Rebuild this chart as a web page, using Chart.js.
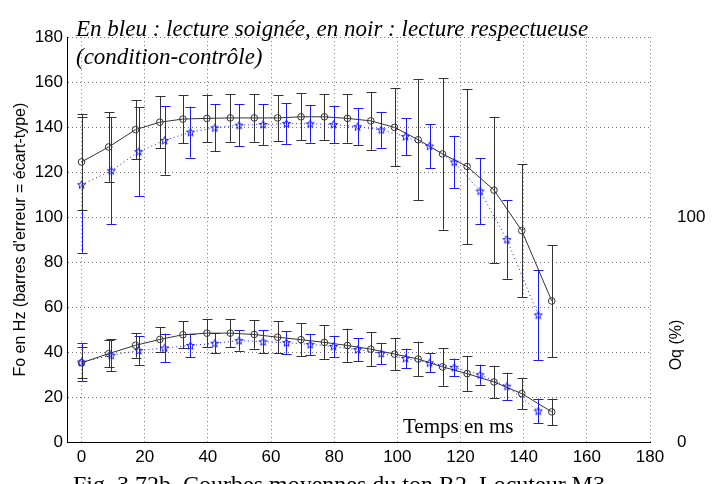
<!DOCTYPE html>
<html>
<head>
<meta charset="utf-8">
<script src="https://cdn.jsdelivr.net/npm/chart.js@4.4.1/dist/chart.umd.min.js"></script>
<style>
  html, body { margin: 0; padding: 0; background: #fff; }
  canvas { display: block; }
</style>
</head>
<body>
<canvas id="chart" width="719" height="484"></canvas>
<script>
// Temps (ms) of each measurement point
const timesBlack = [0, 8.6, 17.1, 24.8, 32.1, 39.7, 47.1, 54.7, 62.1, 69.5, 76.9, 84.2, 91.6, 99.1, 106.6, 114.3, 122.1, 130.6, 139.4, 148.9];
const timesBlue = [0, 9.4, 18.1, 26.3, 34.5, 42.2, 49.9, 57.5, 64.9, 72.4, 79.8, 87.4, 94.9, 102.6, 110.2, 118.0, 126.2, 134.7, 144.6];

// Fo (Hz) - noir : lecture respectueuse, bleu : lecture soignée
const foBlackMean = [124.5, 131.2, 138.9, 142.2, 143.6, 143.9, 144.1, 144.1, 144.1, 144.6, 144.6, 143.9, 142.8, 139.9, 134.4, 128.1, 122.5, 112.0, 94.0, 62.7];
const foBlackSd = [21.4, 15.5, 13.1, 11.5, 10.7, 10.6, 10.6, 10.6, 10.2, 10.5, 10.2, 10.8, 12.9, 17.3, 27.0, 33.7, 34.5, 32.6, 29.6, 24.9];
const foBlueMean = [114.4, 120.6, 129.1, 134.1, 137.8, 139.7, 140.9, 141.2, 141.6, 141.5, 141.2, 140.2, 138.8, 135.8, 131.6, 124.5, 111.6, 90.0, 56.5];
const foBlueSd = [30.2, 23.7, 19.7, 15.2, 11.3, 10.4, 9.3, 9.1, 9.0, 8.4, 8.2, 8.1, 8.0, 8.2, 9.7, 11.7, 14.7, 17.4, 20.2];

// Oq (%)
const oqBlackMean = [35.2, 39.3, 43.0, 45.6, 47.7, 48.4, 48.4, 47.8, 46.6, 45.5, 44.3, 42.9, 41.3, 39.1, 36.9, 33.4, 30.4, 26.7, 21.5, 13.4];
const oqBlackSd = [6.9, 6.0, 5.5, 5.4, 5.9, 6.2, 6.2, 6.3, 7.1, 7.4, 7.6, 7.5, 7.6, 7.2, 7.7, 8.4, 7.9, 7.3, 7.0, 5.9];
const oqBlueMean = [35.5, 38.6, 40.7, 41.8, 42.9, 43.9, 45.1, 44.6, 44.2, 43.4, 42.5, 41.1, 39.4, 37.2, 35.2, 33.2, 29.9, 24.8, 13.8];
const oqBlueSd = [8.3, 7.2, 6.4, 6.4, 5.2, 4.4, 4.5, 5.0, 5.0, 4.7, 4.8, 5.1, 4.7, 4.3, 4.2, 3.9, 4.5, 6.1, 5.5];

// axis ticks
const xTicks = [0, 20, 40, 60, 80, 100, 120, 140, 160, 180];
const foTicks = [0, 20, 40, 60, 80, 100, 120, 140, 160, 180];
const oqTicks = [0, 100];

const BLACK = "#333";
const BLUE = "#1a1aff";
const SANS = "'Liberation Sans', Arial, sans-serif";
const SERIF = "'Liberation Serif', 'Times New Roman', serif";

function points(xs, ys) {
  return xs.map((x, i) => ({ x: x, y: ys[i] }));
}

// small blue pentagram for the "soignée" curves
function makeStar(color) {
  const c = document.createElement("canvas");
  c.width = 11; c.height = 11;
  const g = c.getContext("2d");
  g.strokeStyle = color;
  g.lineWidth = 1;
  g.beginPath();
  for (let k = 0; k < 10; k++) {
    const r = k % 2 === 0 ? 4.2 : 1.8;
    const a = -Math.PI / 2 + k * Math.PI / 5;
    const px = 5.5 + r * Math.cos(a), py = 5.8 + r * Math.sin(a);
    if (k === 0) g.moveTo(px, py); else g.lineTo(px, py);
  }
  g.closePath();
  g.stroke();
  return c;
}
const star = makeStar(BLUE);

// vertical error bars (écart-type), drawn through the chart scales
const errorBars = {
  id: "errorBars",
  beforeDatasetsDraw(chart) {
    const ctx = chart.ctx;
    const xs = chart.scales.x, ys = chart.scales.y;
    chart.data.datasets.forEach((ds, i) => {
      if (!ds.errors) return;
      ctx.save();
      ctx.strokeStyle = ds.errorColor;
      ctx.lineWidth = 1;
      ds.data.forEach((p, j) => {
        const e = ds.errors[j];
        const px = Math.round(xs.getPixelForValue(p.x)) + 0.5;
        const top = ys.getPixelForValue(p.y + e);
        const bot = ys.getPixelForValue(p.y - e);
        ctx.beginPath();
        ctx.moveTo(px, top); ctx.lineTo(px, bot);
        ctx.moveTo(px - 5, Math.round(top) + 0.5); ctx.lineTo(px + 5, Math.round(top) + 0.5);
        ctx.moveTo(px - 5, Math.round(bot) + 0.5); ctx.lineTo(px + 5, Math.round(bot) + 0.5);
        ctx.stroke();
      });
      ctx.restore();
    });
  }
};

// free texts of the figure
const texts = {
  id: "texts",
  afterDraw(chart) {
    const ctx = chart.ctx;
    ctx.save();
    ctx.fillStyle = "#000";
    ctx.textBaseline = "alphabetic";
    ctx.font = "italic 23px " + SERIF;
    ctx.fillText("En bleu : lecture soignée, en noir : lecture respectueuse", 76, 36);
    ctx.fillText("(condition-contrôle)", 76, 64);
    ctx.font = "21px " + SERIF;
    ctx.fillText("Temps en ms", 403, 433);
    ctx.font = "24px " + SERIF;
    ctx.fillText("Fig. 3.72b. Courbes moyennes du ton R2, Locuteur M3", 73, 492);
    // right axis title
    ctx.font = "16px " + SANS;
    ctx.translate(677, 345);
    ctx.rotate(-Math.PI / 2);
    ctx.textAlign = "center";
    ctx.textBaseline = "middle";
    ctx.fillText("Oq (%)", 0, 0);
    ctx.restore();
  }
};

const ctx = document.getElementById("chart").getContext("2d");
new Chart(ctx, {
  type: "line",
  data: {
    datasets: [
      {
        label: "Fo soignée",
        data: points(timesBlue, foBlueMean),
        errors: foBlueSd,
        errorColor: BLUE,
        borderColor: BLUE,
        borderWidth: 1,
        borderDash: [1, 3],
        pointStyle: star,
        pointRadius: 4
      },
      {
        label: "Fo respectueuse",
        data: points(timesBlack, foBlackMean),
        errors: foBlackSd,
        errorColor: BLACK,
        borderColor: BLACK,
        borderWidth: 1,
        pointStyle: "circle",
        pointRadius: 3.3,
        pointBorderColor: BLACK,
        pointBackgroundColor: "rgba(0,0,0,0)",
        pointBorderWidth: 1
      },
      {
        label: "Oq soignée",
        data: points(timesBlue, oqBlueMean),
        errors: oqBlueSd,
        errorColor: BLUE,
        borderColor: BLUE,
        borderWidth: 1,
        borderDash: [1, 3],
        pointStyle: star,
        pointRadius: 4
      },
      {
        label: "Oq respectueuse",
        data: points(timesBlack, oqBlackMean),
        errors: oqBlackSd,
        errorColor: BLACK,
        borderColor: BLACK,
        borderWidth: 1,
        pointStyle: "circle",
        pointRadius: 3.3,
        pointBorderColor: BLACK,
        pointBackgroundColor: "rgba(0,0,0,0)",
        pointBorderWidth: 1
      }
    ]
  },
  options: {
    responsive: false,
    animation: false,
    events: [],
    layout: { padding: { top: 16, left: 0, right: 0, bottom: 0 } },
    plugins: { legend: { display: false }, tooltip: { enabled: false } },
    elements: { line: { tension: 0, fill: false } },
    scales: {
      x: {
        type: "linear",
        min: -4.6,
        max: 180,
        afterBuildTicks: s => { s.ticks = xTicks.map(v => ({ value: v })); },
        afterFit: s => { s.height = 42; },
        ticks: { font: { size: 17, family: SANS }, color: "#000", padding: 5, maxRotation: 0 },
        grid: { color: "rgba(0,0,0,0.55)", drawTicks: false },
        border: { display: true, color: "#000", width: 1, dash: [1, 3] }
      },
      y: {
        min: 0,
        max: 180,
        afterBuildTicks: s => { s.ticks = foTicks.map(v => ({ value: v })); },
        afterFit: s => { s.width = 67; },
        ticks: { font: { size: 17, family: SANS }, color: "#000", padding: 4 },
        grid: { color: "rgba(0,0,0,0.55)", drawTicks: false },
        border: { display: true, color: "#000", width: 1, dash: [1, 3] },
        title: {
          display: true,
          text: "Fo en Hz (barres d'erreur = écart-type)",
          color: "#000",
          font: { size: 16, family: SANS },
          padding: { top: 11, bottom: 0 }
        }
      },
      y2: {
        position: "right",
        min: 0,
        max: 180,
        afterBuildTicks: s => { s.ticks = oqTicks.map(v => ({ value: v })); },
        afterFit: s => { s.width = 69; },
        ticks: { font: { size: 17, family: SANS }, color: "#000", padding: 27 },
        grid: { display: false, drawTicks: false },
        border: { display: false }
      }
    }
  },
  plugins: [errorBars, texts]
});
</script>
</body>
</html>
